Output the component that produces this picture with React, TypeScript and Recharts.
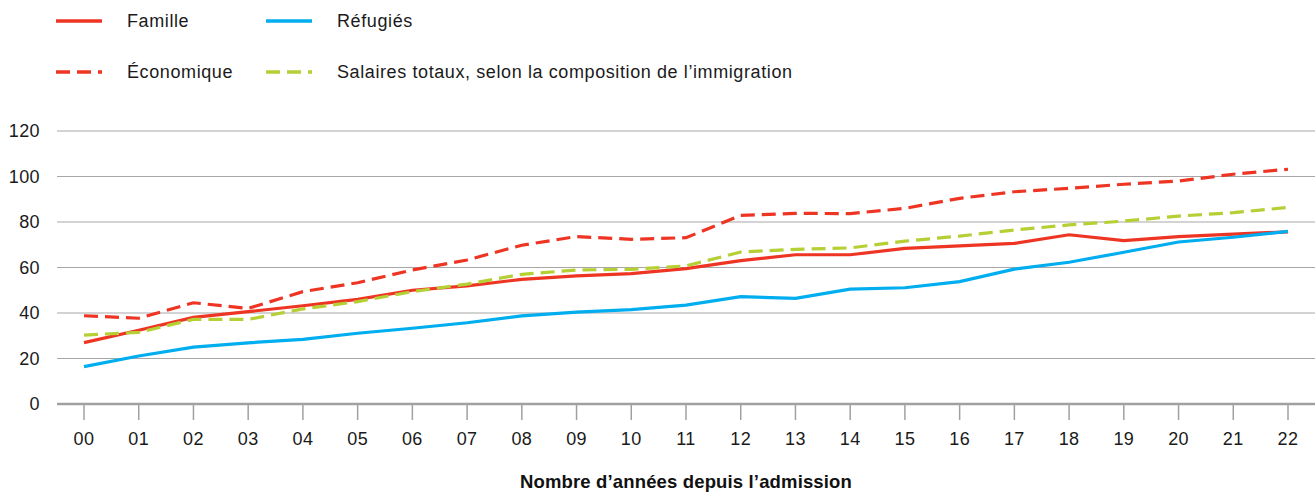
import React from "react";
import { LineChart, Line, XAxis, YAxis, CartesianGrid, Label } from "recharts";

const years = ["00", "01", "02", "03", "04", "05", "06", "07", "08", "09", "10", "11", "12", "13", "14", "15", "16", "17", "18", "19", "20", "21", "22"];
const famille = [27, 32.4, 38.1, 40.6, 43.2, 46, 50, 51.9, 54.8, 56.3, 57.3, 59.5, 63, 65.6, 65.6, 68.4, 69.5, 70.6, 74.4, 71.8, 73.6, 74.7, 75.7];
const refugies = [16.4, 21.1, 25, 26.9, 28.4, 31.1, 33.3, 35.7, 38.7, 40.4, 41.5, 43.5, 47.2, 46.4, 50.5, 51.1, 53.8, 59.3, 62.3, 66.7, 71.2, 73.3, 75.9];
const economique = [38.8, 37.7, 44.5, 42, 49.4, 53.3, 58.9, 63.3, 69.8, 73.6, 72.4, 73.1, 82.9, 83.8, 83.7, 86, 90.4, 93.3, 94.8, 96.6, 98, 101, 103.2];
const salaires = [30.3, 31.5, 37.2, 37.2, 41.8, 45, 49.4, 52.7, 57, 58.9, 59.2, 60.7, 66.8, 68, 68.6, 71.6, 73.8, 76.5, 78.7, 80.4, 82.6, 84.1, 86.4];
const yTicks = [0, 20, 40, 60, 80, 100, 120];

const RED = "#ee3524";
const BLUE = "#00aeef";
const GREEN = "#b6cf35";
const DASH = "14 7";
const FONT = "'Liberation Sans', Arial, Helvetica, sans-serif";

const series = [
  { key: "famille", name: "Famille", color: RED, dash: undefined as string | undefined },
  { key: "refugies", name: "Réfugiés", color: BLUE, dash: undefined as string | undefined },
  { key: "economique", name: "Économique", color: RED, dash: DASH },
  { key: "salaires", name: "Salaires totaux, selon la composition de l’immigration", color: GREEN, dash: DASH },
];

const data = years.map((y, i) => ({
  year: y,
  famille: famille[i],
  refugies: refugies[i],
  economique: economique[i],
  salaires: salaires[i],
}));

function LegendItem({ s, left, top }: { s: (typeof series)[number]; left: number; top: number }) {
  return (
    <div style={{ position: "absolute", left, top, height: 20, display: "flex", alignItems: "center" }}>
      <svg width={46} height={6} style={{ display: "block" }}>
        <line x1={0} y1={3} x2={46} y2={3} stroke={s.color} strokeWidth={3.5} strokeDasharray={s.dash} />
      </svg>
      <span style={{ marginLeft: 25, fontSize: 18, letterSpacing: 0.6, color: "#1a1a1a", lineHeight: "20px", whiteSpace: "nowrap" }}>
        {s.name}
      </span>
    </div>
  );
}

export default function App() {
  return (
    <div style={{ position: "absolute", left: 0, top: 0, width: 1315, height: 492, background: "#fff", fontFamily: FONT }}>
      <LegendItem s={series[0]} left={56} top={11} />
      <LegendItem s={series[1]} left={266} top={11} />
      <LegendItem s={series[2]} left={56} top={62} />
      <LegendItem s={series[3]} left={266} top={62} />
      <LineChart width={1315} height={492} data={data} margin={{ top: 131, right: 0, bottom: 0, left: 0 }}>
        <CartesianGrid vertical={false} stroke="#a7a7a7" strokeWidth={1.2} />
        <XAxis
          dataKey="year"
          padding={{ left: 27, right: 27 }}
          height={88}
          interval={0}
          axisLine={{ stroke: "#a0a0a0", strokeWidth: 2.5 }}
          tickLine={{ stroke: "#a0a0a0", strokeWidth: 1.5 }}
          tickSize={16}
          tickMargin={12}
          tick={{ fontSize: 18, fill: "#1a1a1a", fontFamily: FONT, letterSpacing: 0.4 }}
        >
          <Label
            value="Nombre d’années depuis l’admission"
            position="insideBottom"
            offset={4}
            style={{ fontSize: 18.5, fontWeight: 700, fill: "#111", fontFamily: FONT, letterSpacing: 0.15 }}
          />
        </XAxis>
        <YAxis
          width={57}
          domain={[0, 120]}
          ticks={yTicks}
          interval={0}
          axisLine={false}
          tickLine={false}
          tickSize={0}
          tickMargin={17}
          tick={{ fontSize: 18, fill: "#1a1a1a", fontFamily: FONT, letterSpacing: 0.4 }}
        />
        {series.map((s) => (
          <Line
            key={s.key}
            type="linear"
            dataKey={s.key}
            name={s.name}
            stroke={s.color}
            strokeWidth={3.2}
            strokeDasharray={s.dash}
            dot={false}
            activeDot={false}
            isAnimationActive={false}
          />
        ))}
      </LineChart>
    </div>
  );
}
